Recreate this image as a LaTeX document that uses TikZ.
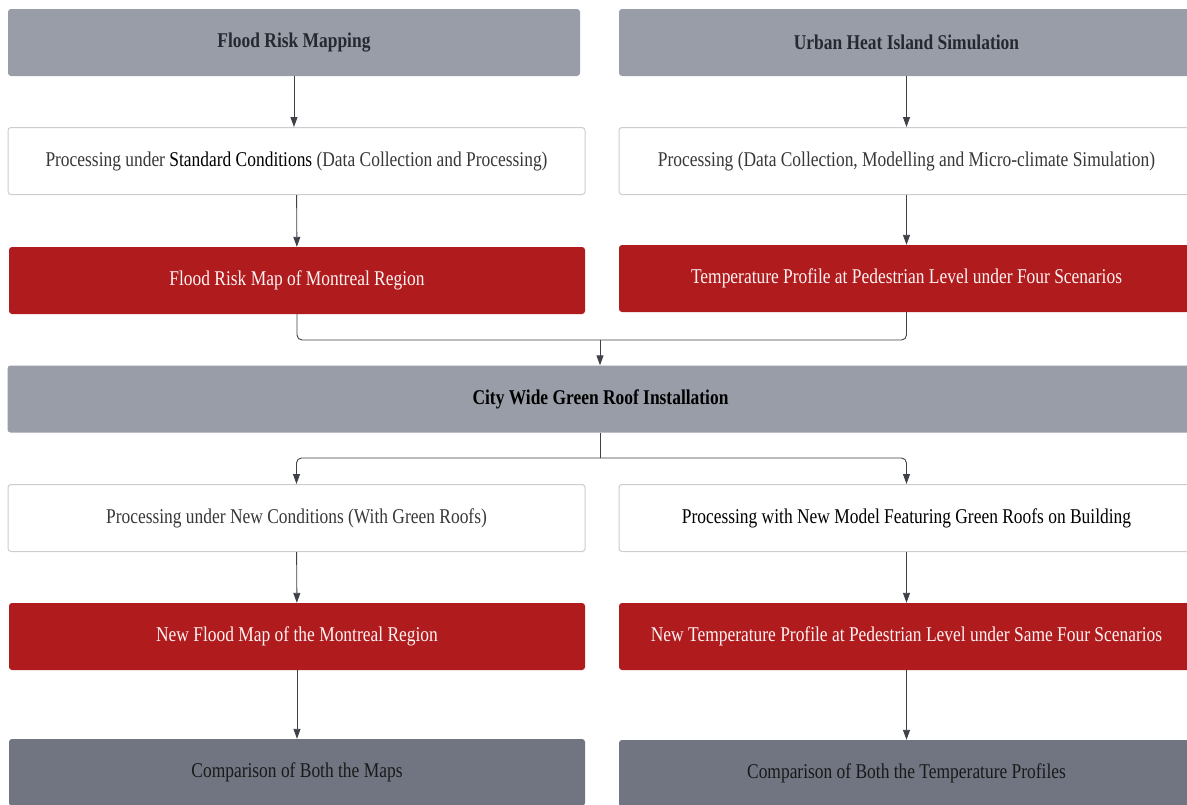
\documentclass[tikz,border=0pt]{standalone}
\usepackage{fontspec}
\setmainfont{Liberation Serif}[FakeStretch=0.83]
\usepackage{tikz}
\usetikzlibrary{arrows.meta}

\definecolor{headgray}{RGB}{152,157,167}
\definecolor{cmpgray}{RGB}{112,117,129}
\definecolor{resred}{RGB}{176,27,30}
\definecolor{framegray}{RGB}{205,205,208}
\definecolor{linkgray}{RGB}{62,65,72}
\definecolor{inkdark}{RGB}{38,41,48}

\begin{document}
\begin{tikzpicture}[x = 1pt, y = -1pt,
    every node/.style = {rounded corners = 3pt, minimum height = 67pt, inner sep = 0pt,
        font = \fontsize{21}{25}\selectfont},
    head/.style = {fill = headgray, text = inkdark, font = \fontsize{21}{25}\selectfont\bfseries},
    procbox/.style = {fill = white, draw = framegray, line width = 1pt, text = black!78},
    result/.style = {fill = resred, text = white!95!red},
    compare/.style = {fill = cmpgray, text = black!90},
    link/.style = {draw = linkgray, line width = 0.9pt, -{Triangle[length = 10pt, width = 7pt]}}]
            \useasboundingbox (0,0) rectangle (1187,804);
            \clip (0,0) rectangle (1187,804);
            % left column
            \node[head, minimum width = 572pt] (flood) at (294,42.5) {Flood Risk Mapping};
            \node[procbox, minimum width = 577pt] (procL) at (296.5,161) {Processing under {\color{black}Standard Conditions} (Data Collection and Processing)};
            \node[result, minimum width = 576pt] (mapL) at (297,280.5) {Flood Risk Map of Montreal Region};
            % right column
            \node[head, minimum width = 575pt] (heat) at (906.5,42.5) {Urban Heat Island Simulation};
            \node[procbox, minimum width = 575pt] (procR) at (906.5,161) {Processing (Data Collection, Modelling and Micro-climate Simulation)};
            \node[result, minimum width = 575pt] (tempR) at (906.5,278.5) {Temperature Profile at Pedestrian Level under Four Scenarios};
            % green roofs
            \node[head, minimum width = 1186pt, text = black] (roof) at (600.5,399) {City Wide Green Roof Installation};
            \node[procbox, minimum width = 577pt] (newL) at (296.5,518) {Processing under New Conditions (With Green Roofs)};
            \node[procbox, minimum width = 575pt, text = black] (newR) at (906.5,518) {Processing with New Model Featuring Green Roofs on Building};
            \node[result, minimum width = 576pt] (mapNL) at (297,636.5) {New Flood Map of the Montreal Region};
            \node[result, minimum width = 575pt] (tempNR) at (906.5,636.5) {New Temperature Profile at Pedestrian Level under Same Four Scenarios};
            \node[compare, minimum width = 576pt] (cmpL) at (297,772.5) {Comparison of Both the Maps};
            \node[compare, minimum width = 575pt] (cmpR) at (906.5,773.5) {Comparison of Both the Temperature Profiles};
            \coordinate (merge) at (600,340);
            \coordinate (split) at (600,458);
            % connectors
            \draw[link] (flood.south -| 294,0) -- (procL.north -| 294,0);
            \draw[link] (procL) -- (mapL);
            \draw[link] (heat) -- (procR);
            \draw[link] (procR) -- (tempR);
            \draw[draw = linkgray, line width = 0.9pt, rounded corners = 5pt] (mapL.south) |- (merge) -| (tempR.south);
            \draw[link] (merge) -- (roof.north -| merge);
            \draw[draw = linkgray, line width = 0.9pt] (roof.south -| split) -- (split);
            \draw[link, rounded corners = 5pt] (split) -| (newL.north);
            \draw[link, rounded corners = 5pt] (split) -| (newR.north);
            \draw[link] (newL) -- (mapNL);
            \draw[link] (newR) -- (tempNR);
            \draw[link] (mapNL) -- (cmpL);
            \draw[link] (tempNR) -- (cmpR);
        \end{tikzpicture}
\end{document}
